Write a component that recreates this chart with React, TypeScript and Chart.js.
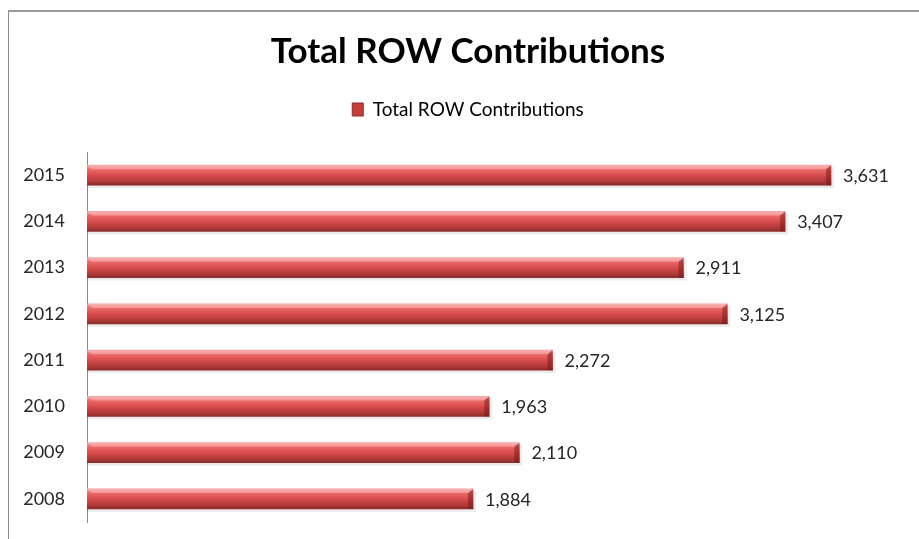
import React, { useEffect, useRef } from "react";
import { Chart, registerables } from "chart.js";

Chart.register(...registerables);

const categories = ["2015", "2014", "2013", "2012", "2011", "2010", "2009", "2008"];
const values = [3631, 3407, 2911, 3125, 2272, 1963, 2110, 1884];
const seriesName = "Total ROW Contributions";
const chartTitle = "Total ROW Contributions";

const FONT = "Lato, 'Open Sans', sans-serif";

const legendSpace = {
  id: "legendSpace",
  afterInit(chart: any) {
    const lg = chart.legend;
    if (!lg || lg.__wrapped) return;
    const orig = lg.fit.bind(lg);
    lg.fit = function () {
      orig();
      this.height += 23;
    };
    lg.__wrapped = true;
  },
};

const valueLabels = {
  id: "valueLabels",
  afterDatasetsDraw(chart: any) {
    const ctx = chart.ctx;
    const meta = chart.getDatasetMeta(0);
    ctx.save();
    ctx.font = `18px ${FONT}`;
    ctx.fillStyle = "#262626";
    ctx.textAlign = "left";
    ctx.textBaseline = "middle";
    meta.data.forEach((bar: any, i: number) => {
      const v = chart.data.datasets[0].data[i];
      ctx.fillText(Number(v).toLocaleString("en-US"), bar.x + 12, bar.y + 1);
    });
    ctx.restore();
  },
};

const barShade = {
  id: "barShade",
  beforeDatasetsDraw(chart: any) {
    const ctx = chart.ctx;
    const meta = chart.getDatasetMeta(0);
    ctx.save();
    meta.data.forEach((bar: any) => {
      const h = bar.height;
      ctx.fillStyle = "rgba(0,0,0,0.08)";
      ctx.fillRect(bar.base + 1, bar.y - h / 2 + 2, bar.x - bar.base + 2, h + 1);
    });
    ctx.restore();
  },
  afterDatasetsDraw(chart: any) {
    const ctx = chart.ctx;
    const meta = chart.getDatasetMeta(0);
    ctx.save();
    meta.data.forEach((bar: any) => {
      const h = bar.height;
      const top = bar.y - h / 2;
      ctx.fillStyle = "rgba(120,20,20,0.5)";
      ctx.beginPath();
      ctx.moveTo(bar.x - 5, top + 4);
      ctx.lineTo(bar.x, top);
      ctx.lineTo(bar.x, top + h);
      ctx.lineTo(bar.x - 5, top + h);
      ctx.closePath();
      ctx.fill();
      ctx.fillStyle = "rgba(255,200,200,0.45)";
      ctx.beginPath();
      ctx.moveTo(bar.base, top);
      ctx.lineTo(bar.x, top);
      ctx.lineTo(bar.x - 5, top + 4);
      ctx.lineTo(bar.base + 5, top + 4);
      ctx.closePath();
      ctx.fill();
    });
    ctx.restore();
  },
};

export default function App() {
  const ref = useRef<HTMLCanvasElement>(null);

  useEffect(() => {
    if (!ref.current) return;
    const chart = new Chart(ref.current, {
      type: "bar",
      data: {
        labels: categories,
        datasets: [
          {
            label: seriesName,
            data: values,
            backgroundColor: (c: any) => {
              const ch = c.chart;
              const ys = ch.scales && ch.scales.y;
              if (!ys || c.type !== "data") return "#d94848";
              const yc = ys.getPixelForValue(c.dataIndex);
              const g = ch.ctx.createLinearGradient(0, yc - 10, 0, yc + 10);
              g.addColorStop(0, "#f4a0a0");
              g.addColorStop(0.2, "#ec6a6a");
              g.addColorStop(0.5, "#d84c4c");
              g.addColorStop(0.8, "#b33a3a");
              g.addColorStop(1, "#8c2c2c");
              return g;
            },
            borderWidth: 0,
            barThickness: 20,
          },
        ],
      },
      options: {
        indexAxis: "y",
        animation: false,
        responsive: false,
        maintainAspectRatio: false,
        devicePixelRatio: 1,
        layout: { padding: { left: 8, right: 0, top: 10, bottom: 17 } },
        scales: {
          x: { display: false, min: 0, max: 4104 },
          y: {
            afterFit: (s: any) => {
              s.width = 79;
              s.paddingTop = 0;
              s.paddingBottom = 0;
            },
            grid: { display: false, drawTicks: false },
            border: { display: true, color: "#888888", width: 1 },
            ticks: { padding: 22, color: "#262626", font: { family: FONT, size: 18 } },
          },
        },
        plugins: {
          title: {
            display: true,
            text: chartTitle,
            color: "#000000",
            font: { family: FONT, size: 35, weight: "bold" },
            padding: { top: 21, bottom: 21 },
          },
          legend: {
            display: true,
            position: "top",
            labels: {
              color: "#262626",
              font: { family: FONT, size: 19 },
              boxWidth: 11,
              boxHeight: 13,
              padding: 6,
              generateLabels: () => [
                {
                  text: seriesName,
                  fillStyle: "#c83c3c",
                  strokeStyle: "#8c2c2c",
                  lineWidth: 1,
                  datasetIndex: 0,
                  hidden: false,
                },
              ],
            },
          },
          tooltip: { enabled: false },
        },
      },
      plugins: [legendSpace, barShade, valueLabels],
    });
    return () => chart.destroy();
  }, []);

  return (
    <div style={{ position: "fixed", left: 0, top: 0, width: 919, height: 539, overflow: "hidden", background: "#fff" }}>
      <div style={{ position: "absolute", left: 8, top: 10, width: 1000, height: 600, borderLeft: "1px solid #8a8a8a", borderTop: "2px solid #9a9a9a" }} />
      <canvas ref={ref} width={928} height={539} style={{ position: "absolute", left: 0, top: 0, width: 928, height: 539 }} />
    </div>
  );
}
